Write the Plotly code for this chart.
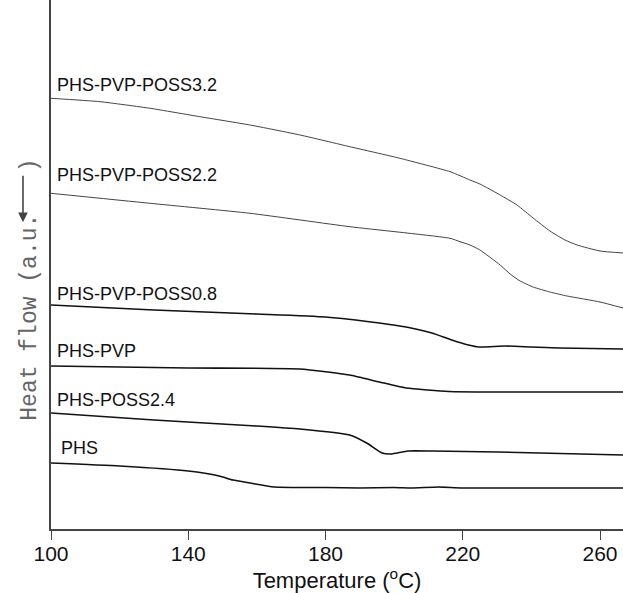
import plotly.graph_objects as go

# Temperature (°C) and heat flow (a.u.)
t_poss32 = [100, 114.3, 128.9, 143.4, 158, 172.6, 187.1, 201.7, 216.3, 222.1, 225.0, 230.9, 235.8, 240.5, 245.4, 249.8, 253.3, 260.0, 266.7]
h_poss32 = [43.07, 42.73, 42.07, 41.23, 40.4, 39.4, 38.23, 37.07, 35.73, 34.9, 34.5, 33.4, 32.4, 31.1, 29.8, 28.9, 28.4, 27.8, 27.6]

t_poss22 = [100, 128.9, 158, 187.1, 216.3, 219.2, 222.1, 225.0, 230.9, 233.8, 236.7, 240.5, 245.4, 250.4, 260, 266.7]
h_poss22 = [33.57, 32.57, 31.57, 30.23, 29.07, 28.73, 28.4, 27.9, 26.4, 25.5, 24.8, 24.2, 23.7, 23.3, 22.7, 22.1]

t_poss08 = [100, 130, 160, 180, 195.7, 203.5, 211, 216.8, 221.7, 224.6, 232.5, 240, 248, 266.7]
h_poss08 = [22.4, 21.9, 21.5, 21.2, 20.6, 20.2, 19.6, 18.9, 18.4, 18.2, 18.3, 18.2, 18.1, 18.0]

t_pvp = [100, 140, 172.5, 187, 195.7, 203.5, 216, 230, 266.7]
h_pvp = [16.3, 16.1, 16.0, 15.4, 14.7, 14.1, 13.75, 13.7, 13.7]

t_poss24 = [100, 130, 160, 172.5, 187, 192, 196.5, 199, 204, 211, 230, 266.7]
h_poss24 = [11.6, 10.9, 10.3, 10.0, 9.4, 8.6, 7.6, 7.5, 7.8, 7.8, 7.7, 7.4]

t_phs = [100, 120, 140, 149, 153, 158, 165, 180, 190, 200, 205, 213, 220, 266.7]
h_phs = [6.6, 6.3, 5.8, 5.3, 4.9, 4.6, 4.2, 4.15, 4.1, 4.15, 4.1, 4.2, 4.1, 4.1]

names = ["PHS-PVP-POSS3.2", "PHS-PVP-POSS2.2", "PHS-PVP-POSS0.8", "PHS-PVP", "PHS-POSS2.4", "PHS"]
label_x = [101.2, 101.2, 101.2, 101.2, 101.2, 102.3]
label_y = [44.4, 35.4, 23.5, 17.8, 12.9, 8.1]

x_ticks = [100, 140, 180, 220, 260]

series = [
    (t_poss32, h_poss32, "#444444", 1.0),
    (t_poss22, h_poss22, "#444444", 1.0),
    (t_poss08, h_poss08, "#111111", 1.6),
    (t_pvp, h_pvp, "#111111", 1.6),
    (t_poss24, h_poss24, "#111111", 1.6),
    (t_phs, h_phs, "#111111", 1.6),
]

fig = go.Figure()
for (t, h, c, w), n in zip(series, names):
    fig.add_trace(go.Scatter(x=t, y=h, mode="lines", name=n,
                             line=dict(color=c, width=w, shape="spline", smoothing=0.5),
                             showlegend=False))

for n, lx, ly in zip(names, label_x, label_y):
    fig.add_annotation(x=lx, y=ly, text=n, showarrow=False, xanchor="left", yanchor="middle",
                       font=dict(family="Liberation Sans, Arial", size=18, color="#111111"))

# y-axis title (monospace, rotated) with room for a drawn arrow
fig.add_annotation(xref="paper", yref="paper", x=-0.037, y=0.452, text="Heat flow (a.u.   )",
                   textangle=-90, showarrow=False, xanchor="center", yanchor="middle",
                   font=dict(family="Courier New, Nimbus Mono PS, FreeMono, Liberation Mono, monospace",
                             size=23, color="#666666"))
fig.add_annotation(xref="paper", yref="paper", x=-0.049, y=0.580, text="",
                   showarrow=True, ax=0, ay=-48, arrowhead=2, arrowsize=1.2, arrowwidth=1.6,
                   arrowcolor="#444444")

fig.update_layout(
    width=623, height=593,
    margin=dict(l=51, r=0, t=0, b=64),
    paper_bgcolor="white", plot_bgcolor="white",
    xaxis=dict(range=[100, 266.7], tickvals=x_ticks, ticktext=[str(v) for v in x_ticks],
               showline=True, linecolor="#444444", linewidth=1.5, ticks="outside", ticklen=9,
               tickwidth=1.2, tickcolor="#444444", showgrid=False, zeroline=False,
               ticklabelstandoff=-4,
               tickfont=dict(family="Liberation Sans, Arial", size=21, color="#111111"),
               title=dict(text="Temperature (<sup>o</sup>C)", standoff=0,
                          font=dict(family="Liberation Sans, Arial", size=22, color="#111111"))),
    yaxis=dict(range=[0, 52.9], showline=True, linecolor="#444444", linewidth=1.5,
               showticklabels=False, ticks="", showgrid=False, zeroline=False),
)

fig.write_html("out.html", config={"displayModeBar": False},
               post_script="document.body.style.margin='0';")
